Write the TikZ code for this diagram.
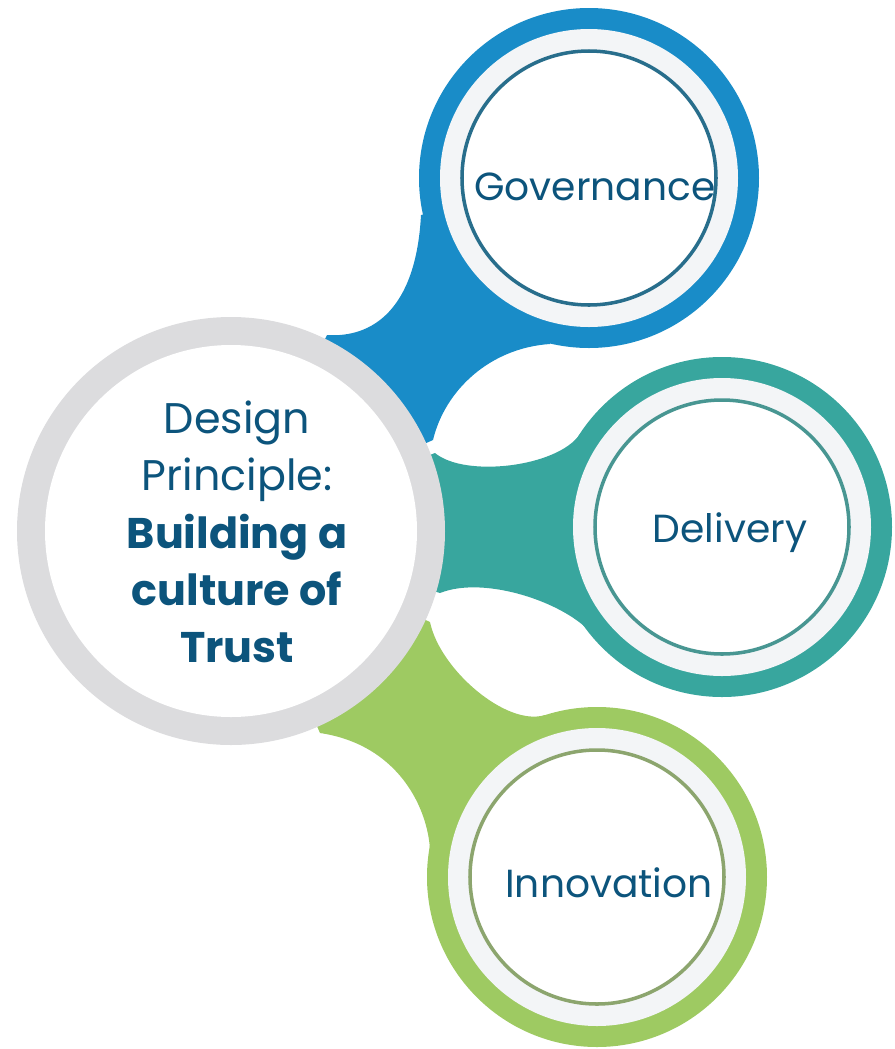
\documentclass[tikz,border=0pt]{standalone}
\usepackage{fontspec}
\setmainfont{Poppins}
\definecolor{govblue}{RGB}{25,140,200}
\definecolor{delteal}{RGB}{56,166,158}
\definecolor{inngreen}{RGB}{158,202,98}
\definecolor{govline}{RGB}{40,110,140}
\definecolor{delline}{RGB}{72,150,146}
\definecolor{innline}{RGB}{140,165,110}
\definecolor{hubgrey}{RGB}{220,220,222}
\definecolor{band}{RGB}{243,245,247}
\definecolor{textblue}{RGB}{12,84,124}
\tikzset{
	ringtext/.style={text=textblue, font=\fontsize{22.3pt}{30pt}\selectfont, anchor=base, inner sep=0pt},
	hubtext/.style={text=textblue, font=\fontsize{24.4pt}{32.6pt}\selectfont, align=center, inner sep=0pt}
}
\begin{document}
\begin{tikzpicture}[x=0.02cm, y=-0.02cm]
	\useasboundingbox (0,0) rectangle (894,1049);
	\coordinate (hub) at (231,531);
	\coordinate (gov) at (589,178);
	\coordinate (del) at (722,527);
	\coordinate (inn) at (597,877);
	% bridges from the hub to each ring
	\fill[govblue] (327,335) .. controls (372,338) and (416,310) .. (421,215) -- (gov) -- (550,344) .. controls (490,348) and (445,390) .. (433,440) -- (hub) -- cycle;
	\fill[delteal] (435,453) .. controls (465,478) and (558,467) .. (580,434) -- (del) -- (592,634) .. controls (566,603) and (485,575) .. (440,593) -- (hub) -- cycle;
	\fill[inngreen] (430,622) .. controls (440,670) and (507,727) .. (545,715) -- (inn) -- (430,850) .. controls (428,810) and (400,745) .. (320,733) -- (hub) -- cycle;
	% rings
	\foreach \c/\col/\lin in {gov/govblue/govline, del/delteal/delline, inn/inngreen/innline} {
		\fill[\col] (\c) circle (170);
		\fill[band] (\c) circle (149);
		\filldraw[fill=white, draw=\lin, line width=2pt] (\c) circle (127);
	}
	\fill[hubgrey] (hub) circle (214);
	\fill[white] (hub) circle (186);
	% texts
	\node[hubtext] (hubtitle) at (237,532) {Design\\Principle:\\\textbf{Building a}\\\textbf{culture of}\\\textbf{Trust}};
	\node[ringtext] (govtitle) at (595,200) {Governance};
	\node[ringtext] (deltitle) at (730,542) {Delivery};
	\node[ringtext] (inntitle) at (609,897) {Innovation};
\end{tikzpicture}
\end{document}
